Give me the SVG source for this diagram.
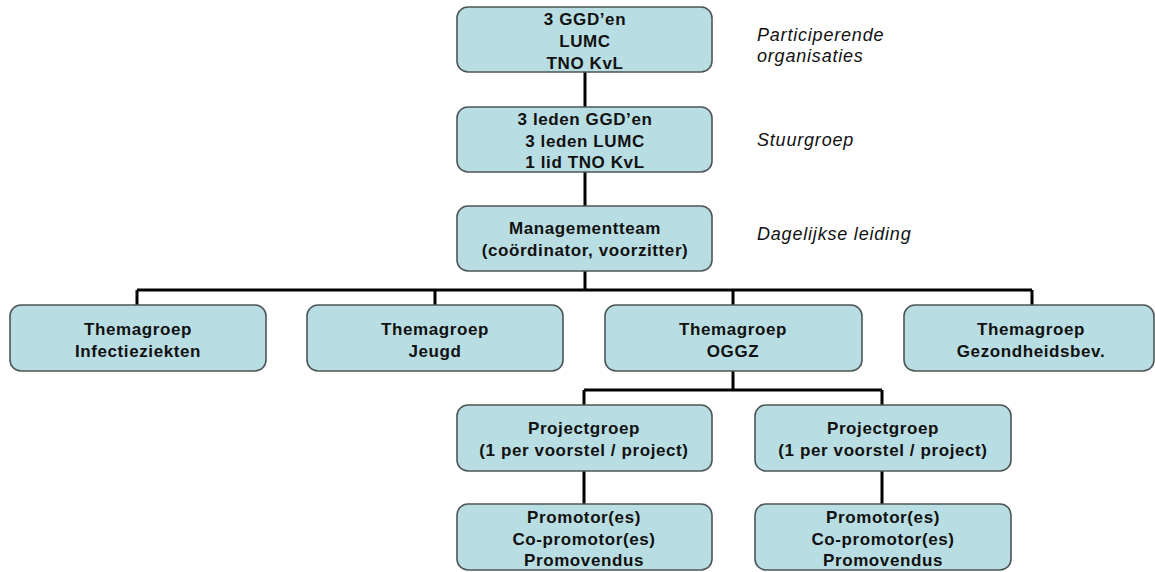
<svg xmlns="http://www.w3.org/2000/svg" width="1155" height="572" viewBox="0 0 1155 572">
<style>
.box{fill:#b8dee3;stroke:#4d5556;stroke-width:1.6}
.t{font-family:"Liberation Sans",Arial,sans-serif;font-weight:bold;font-size:17px;letter-spacing:0.6px;fill:#111;text-anchor:middle}
.lab{font-family:"Liberation Sans",Arial,sans-serif;font-style:italic;font-size:18px;letter-spacing:0.8px;fill:#111}
.c{fill:none;stroke:#000;stroke-width:3}
</style>
<rect width="1155" height="572" fill="#fff"/>
<g id="connectors">
<path class="c" d="M585 72V107M585 172V206M585 271V290M137 290H1032M137 290V305M435 290V305M733 290V305M1032 290V305M733 371V390M584 390H882M584 390V405M882 390V405M584 471V504M882 471V504"/>
</g>
<g id="n-org"><rect class="box" x="457" y="7" width="255" height="65" rx="11"/>
<text class="t" x="585" y="25">3 GGD’en</text><text class="t" x="585" y="47">LUMC</text><text class="t" x="585" y="69">TNO KvL</text></g>
<g id="n-stuur"><rect class="box" x="457" y="107" width="255" height="65" rx="11"/>
<text class="t" x="585" y="125">3 leden GGD’en</text><text class="t" x="585" y="147">3 leden LUMC</text><text class="t" x="585" y="168">1 lid TNO KvL</text></g>
<g id="n-mt"><rect class="box" x="457" y="206" width="255" height="65" rx="11"/>
<text class="t" x="585" y="234">Managementteam</text><text class="t" x="585" y="256">(coördinator, voorzitter)</text></g>
<g id="labels">
<text class="lab" x="757" y="41">Participerende</text>
<text class="lab" x="757" y="62">organisaties</text>
<text class="lab" x="757" y="146">Stuurgroep</text>
<text class="lab" x="757" y="240">Dagelijkse leiding</text>
</g>
<g id="n-infect"><rect class="box" x="10" y="305" width="256" height="66" rx="11"/>
<text class="t" x="138" y="335">Themagroep</text><text class="t" x="138" y="357">Infectieziekten</text></g>
<g id="n-jeugd"><rect class="box" x="307" y="305" width="256" height="66" rx="11"/>
<text class="t" x="435" y="335">Themagroep</text><text class="t" x="435" y="357">Jeugd</text></g>
<g id="n-oggz"><rect class="box" x="605" y="305" width="257" height="66" rx="11"/>
<text class="t" x="733" y="335">Themagroep</text><text class="t" x="733" y="357">OGGZ</text></g>
<g id="n-gez"><rect class="box" x="904" y="305" width="250" height="66" rx="11"/>
<text class="t" x="1031" y="335">Themagroep</text><text class="t" x="1031" y="357">Gezondheidsbev.</text></g>
<g id="n-proj1"><rect class="box" x="457" y="405" width="255" height="66" rx="11"/>
<text class="t" x="584" y="434">Projectgroep</text><text class="t" x="584" y="456">(1 per voorstel / project)</text></g>
<g id="n-proj2"><rect class="box" x="755" y="405" width="256" height="66" rx="11"/>
<text class="t" x="883" y="434">Projectgroep</text><text class="t" x="883" y="456">(1 per voorstel / project)</text></g>
<g id="n-prom1"><rect class="box" x="457" y="504" width="255" height="66" rx="11"/>
<text class="t" x="584" y="523">Promotor(es)</text><text class="t" x="584" y="545">Co-promotor(es)</text><text class="t" x="584" y="566">Promovendus</text></g>
<g id="n-prom2"><rect class="box" x="755" y="504" width="256" height="66" rx="11"/>
<text class="t" x="883" y="523">Promotor(es)</text><text class="t" x="883" y="545">Co-promotor(es)</text><text class="t" x="883" y="566">Promovendus</text></g>
</svg>
